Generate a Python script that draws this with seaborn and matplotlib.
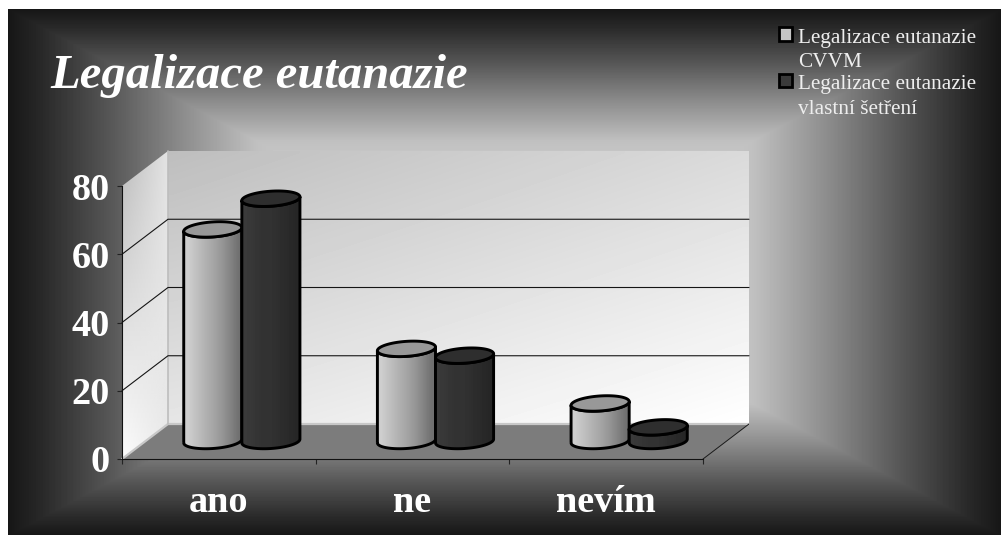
import numpy as np
import pandas as pd
import matplotlib
matplotlib.use("Agg")
import matplotlib.pyplot as plt
import seaborn as sns
from matplotlib.legend_handler import HandlerPatch
from matplotlib.patches import Patch, PathPatch, Polygon, Rectangle
from matplotlib.path import Path
from matplotlib.transforms import Affine2D

# Survey results: share of respondents per answer, in percent
answers = ["ano", "ne", "nevím"]
cvvm_values = [62, 27, 11]
own_survey_values = [71, 25, 4]
series_names = ["Legalizace eutanazie\nCVVM", "Legalizace eutanazie\nvlastní šetření"]
value_ticks = [0, 20, 40, 60, 80]
chart_title = "Legalizace eutanazie"

W, H = 1001, 535
SERIF = "Liberation Serif"
DEPTH_X, DEPTH_Y = 46, 35      # pixel offset from the front plane to the back wall
CAP_B, CAP_TILT = 2.2, 0.55    # cylinder cap half-height and tilt, in value units

sns.set_style("white")
fig = plt.figure(figsize=(W / 100, H / 100), dpi=100, facecolor="white")

# Pixel-coordinate layer for the backdrop, walls and floor
scene = fig.add_axes([0, 0, 1, 1], zorder=0)
scene.set_xlim(0, W)
scene.set_ylim(H, 0)
scene.axis("off")

ax = fig.add_axes([122 / W, (H - 459) / H, 581 / W, 273 / H], zorder=1)
ax.patch.set_alpha(0)

frame = pd.DataFrame({
    "odpověď": answers * 2,
    "procenta": cvvm_values + own_survey_values,
    "šetření": [series_names[0]] * 3 + [series_names[1]] * 3,
})
sns.barplot(data=frame, x="odpověď", y="procenta", hue="šetření", width=0.6,
            palette=["#aaaaaa", "#303030"], legend=False, ax=ax, zorder=3)
ax.set_xlim(-0.5, 2.5)
ax.set_ylim(0, 80)


def to_scene(x, v, depth=0.0):
    """Project a chart position at the given depth (0 front, 1 back) to scene pixels."""
    px, py = ax.transData.transform((x, v))
    return px + DEPTH_X * depth, H - py - DEPTH_Y * depth


def corner_shade(corners, shape=(64, 64)):
    """Smooth shading between four corner grays, [[top-left, top-right], [bottom-left, bottom-right]]."""
    u, w = np.meshgrid(np.linspace(0, 1, shape[1]), np.linspace(0, 1, shape[0]))
    (a, b), (c, d) = corners
    return a * (1 - u) * (1 - w) + b * u * (1 - w) + c * (1 - u) * w + d * u * w


def gray_image(target, values, extent, clip=None, zorder=1):
    im = target.imshow(values, cmap="gray", vmin=0, vmax=255, extent=extent,
                       aspect="auto", interpolation="bilinear", zorder=zorder)
    if clip is not None:
        im.set_clip_path(clip)
    return im


# Rectangular "from centre" gradient behind the whole chart
L, R, T, B = 8, W, 9, H
xx, yy = np.meshgrid(np.arange(L, R), np.arange(T, B))
t = np.maximum(np.abs(xx - (L + R) / 2) / ((R - L) / 2), np.abs(yy - (T + B) / 2) / ((B - T) / 2))
backdrop = np.interp(t, [0, 0.5, 0.65, 0.8, 0.93, 1.0], [255, 192, 140, 85, 42, 22])
gray_image(scene, backdrop, (L, R, B, T), zorder=0)

# Back wall
x0, y_top = to_scene(-0.5, 80, 1)
x1, y_bot = to_scene(2.5, 0, 1)
gray_image(scene, corner_shade([[190, 218], [230, 255]]), (x0, x1, y_bot, y_top), zorder=1)

# Side wall
fx, fy_top = to_scene(-0.5, 80, 0)
_, fy_bot = to_scene(-0.5, 0, 0)
side = Polygon([(fx, fy_top), (x0, y_top), (x0, y_bot), (fx, fy_bot)], closed=True,
               facecolor="none", edgecolor="none", transform=scene.transData)
scene.add_patch(side)
gray_image(scene, corner_shade([[188, 228], [252, 232]]), (fx, x0, fy_bot, y_top), clip=side, zorder=1)

# Floor
fx1, _ = to_scene(2.5, 0, 0)
scene.add_patch(Polygon([(fx, fy_bot), (x0, y_bot), (x1, y_bot), (fx1, fy_bot)], closed=True,
                        facecolor="#7c7c7c", edgecolor="none", zorder=2))
scene.plot([x0, x1], [y_bot, y_bot], color="#c8c8c8", lw=1.6, zorder=2.1)
scene.plot([fx, x0], [fy_bot, y_bot], color="#c8c8c8", lw=1.6, zorder=2.1)
scene.plot([x0, x0], [y_top, y_bot], color="#bdbdbd", lw=1.2, zorder=2.1)
scene.plot([fx1, x1], [fy_bot, y_bot], color="#1a1a1a", lw=0.7, zorder=2.2)

# Grid lines running along the side wall and the back wall
for v in value_ticks[1:-1]:
    xa, ya = to_scene(-0.5, v, 0)
    xb, yb = to_scene(-0.5, v, 1)
    xc, yc = to_scene(2.5, v, 1)
    scene.plot([xa, xb, xc], [ya, yb, yc], color="#151515", lw=0.8, zorder=2.2)
scene.set_xlim(0, W)
scene.set_ylim(H, 0)

# Turn the flat bars into shaded cylinders standing mid-way across the floor
mid_plane = ax.transData + Affine2D().translate(DEPTH_X / 2, DEPTH_Y / 2 + 0.5)
shades = [np.array([[206, 192, 178, 165, 150, 132, 112]]),
          np.array([[58, 54, 50, 50, 46, 42, 38]])]
cap_colors = ["#989898", "#2e2e2e"]
n = len(answers)
bars = list(ax.patches)[:2 * n]
for i, bar in enumerate(bars):
    series = i // n
    bx, bw, bh = bar.get_x(), bar.get_width(), bar.get_height()
    cx, a = bx + bw / 2, bw / 2

    def rim(angle, level):
        return np.column_stack([cx + a * np.cos(angle),
                                level + CAP_B * np.sin(angle) + CAP_TILT * np.cos(angle)])

    front = np.linspace(np.pi, 2 * np.pi, 48)
    outline = np.vstack([rim(front, 0), rim(front[::-1], bh), rim(front[:1], 0)])
    z = 3 + series
    clip = PathPatch(Path(outline), facecolor="none", edgecolor="none", transform=mid_plane)
    ax.add_patch(clip)
    bar.set_transform(mid_plane)
    bar.set_zorder(z)
    bar.set_clip_path(clip)
    im = ax.imshow(shades[series], cmap="gray", vmin=0, vmax=255, aspect="auto",
                   extent=(bx, bx + bw, -CAP_B - 1, bh + CAP_B + 1), transform=mid_plane,
                   interpolation="bilinear", zorder=z + 0.1)
    im.set_clip_path(clip)
    ax.add_patch(PathPatch(Path(outline), facecolor="none", edgecolor="black", lw=2.1,
                           transform=mid_plane, zorder=z + 0.2, joinstyle="round"))
    whole = np.linspace(0, 2 * np.pi, 96)
    ax.add_patch(Polygon(rim(whole, bh), closed=True, facecolor=cap_colors[series],
                         edgecolor="black", lw=2.1, transform=mid_plane, zorder=z + 0.3))

ax.set_xlim(-0.5, 2.5)
ax.set_ylim(0, 80)
ax.set_aspect("auto")

# Axes: value ticks on the left, category separators below
for side_name in ("top", "right"):
    ax.spines[side_name].set_visible(False)
for side_name in ("left", "bottom"):
    ax.spines[side_name].set_color("#111111")
    ax.spines[side_name].set_linewidth(0.8)
ax.set_xlabel("")
ax.set_ylabel("")
ax.set_yticks(value_ticks)
ax.set_xticks(range(n), answers)
ax.set_xticks([-0.5, 0.5, 1.5, 2.5], minor=True)
ax.tick_params(axis="y", which="major", left=True, length=3.6, width=0.8, color="#222222",
               pad=5, labelsize=27.5, labelcolor="white")
ax.tick_params(axis="x", which="major", bottom=False, length=0, pad=19, labelsize=27.5, labelcolor="white")
ax.tick_params(axis="x", which="minor", bottom=True, length=3.6, width=0.8, color="#222222")
for label in ax.get_xticklabels() + ax.get_yticklabels():
    label.set_fontfamily(SERIF)
    label.set_fontweight("bold")

fig.text(50 / W, 1 - 88 / H, chart_title, color="white", fontfamily=SERIF, fontsize=35,
         fontweight="bold", fontstyle="italic", va="baseline", ha="left")


def first_line_marker(legend, orig_handle, xdescent, ydescent, width, height, fontsize):
    # Multi-line entries are anchored below their first line; lift the swatch up to it
    return Rectangle((-xdescent, -ydescent + fontsize * 0.75), width, height)


handles = [Patch(facecolor="#c4c4c4", edgecolor="black", lw=2),
           Patch(facecolor="#3a3a3a", edgecolor="black", lw=2)]
legend = fig.legend(handles, series_names, loc="upper left", bbox_to_anchor=(779 / W, 1 - 28.5 / H),
                    bbox_transform=fig.transFigure, frameon=False, borderaxespad=0, borderpad=0,
                    handlelength=0.6, handleheight=0.6, handletextpad=0.3, labelspacing=0.13,
                    labelcolor="#eeeeee", prop={"family": SERIF, "size": 15.3},
                    handler_map={Patch: HandlerPatch(patch_func=first_line_marker)})
for entry in legend.get_texts():
    entry.set_linespacing(1.42)

fig.savefig("out.png", dpi=100, facecolor="white")
